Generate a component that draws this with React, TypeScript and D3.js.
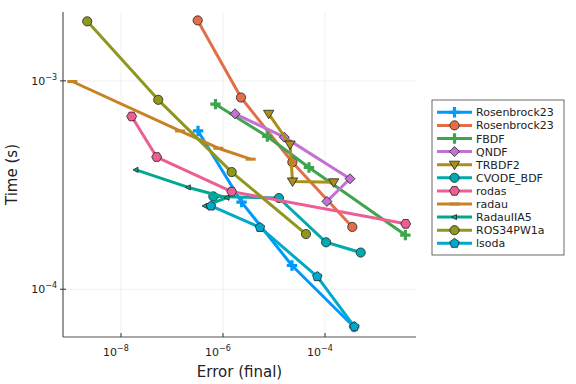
import React from "react";
import * as d3 from "d3";

// work-precision data: error (final) vs time (s)
const rosenbrockBlueErr = [3.24e-7, 2.31e-6, 2.25e-5, 3.71e-4];
const rosenbrockBlueTime = [5.75e-4, 2.62e-4, 1.3e-4, 6.59e-5];
const rosenbrockOrangeErr = [3.19e-7, 2.25e-6, 2.29e-5, 3.43e-4];
const rosenbrockOrangeTime = [1.95e-3, 8.32e-4, 4.07e-4, 1.99e-4];
const fbdfErr = [7.13e-7, 7.4e-6, 4.85e-5, 3.76e-3];
const fbdfTime = [7.73e-4, 5.41e-4, 3.84e-4, 1.82e-4];
const qndfErr = [1.72e-6, 1.59e-5, 3.09e-4, 1.09e-4];
const qndfTime = [6.95e-4, 5.37e-4, 3.39e-4, 2.64e-4];
const trbdf2Err = [7.87e-6, 2.06e-5, 2.31e-5, 1.48e-4];
const trbdf2Time = [6.95e-4, 4.95e-4, 3.29e-4, 3.26e-4];
const cvodeErr = [6.46e-7, 1.25e-5, 1.05e-4, 5.01e-4];
const cvodeTime = [2.79e-4, 2.74e-4, 1.68e-4, 1.5e-4];
const rodasErr = [1.62e-8, 5.01e-8, 1.48e-6, 3.82e-3];
const rodasTime = [6.75e-4, 4.31e-4, 2.94e-4, 2.06e-4];
const radauErr = [1.11e-9, 1.44e-7, 8.09e-7, 3.49e-6];
const radauTime = [9.93e-4, 5.75e-4, 4.75e-4, 4.21e-4];
const radauIIA5Err = [1.97e-8, 2.09e-7, 1.2e-6, 4.44e-7];
const radauIIA5Time = [3.74e-4, 3.08e-4, 2.75e-4, 2.51e-4];
const ros34Err = [2.18e-9, 5.38e-8, 1.48e-6, 4.24e-5];
const ros34Time = [1.93e-3, 8.11e-4, 3.65e-4, 1.84e-4];
const lsodaErr = [5.82e-7, 5.31e-6, 7.06e-5, 3.76e-4];
const lsodaTime = [2.51e-4, 1.98e-4, 1.15e-4, 6.61e-5];

const xTicks = [1e-8, 1e-6, 1e-4];
const xTickExp = ["−8", "−6", "−4"];
const yTicks = [1e-3, 1e-4];
const yTickExp = ["−3", "−4"];

const series = [
  { name: "Rosenbrock23", color: "#009AFA", shape: "cross", x: rosenbrockBlueErr, y: rosenbrockBlueTime },
  { name: "Rosenbrock23", color: "#E36F47", shape: "circle", x: rosenbrockOrangeErr, y: rosenbrockOrangeTime },
  { name: "FBDF", color: "#3EA44E", shape: "cross", x: fbdfErr, y: fbdfTime },
  { name: "QNDF", color: "#C371D2", shape: "diamond", x: qndfErr, y: qndfTime },
  { name: "TRBDF2", color: "#AC8E18", shape: "dtriangle", x: trbdf2Err, y: trbdf2Time },
  { name: "CVODE_BDF", color: "#00AAAE", shape: "circle", x: cvodeErr, y: cvodeTime },
  { name: "rodas", color: "#ED5E93", shape: "hexagon", x: rodasErr, y: rodasTime },
  { name: "radau", color: "#C68225", shape: "hline", x: radauErr, y: radauTime },
  { name: "RadauIIA5", color: "#00A98D", shape: "ltriangle", x: radauIIA5Err, y: radauIIA5Time },
  { name: "ROS34PW1a", color: "#8E971E", shape: "circle", x: ros34Err, y: ros34Time },
  { name: "lsoda", color: "#00A8CB", shape: "pentagon", x: lsodaErr, y: lsodaTime },
];

const W = 576, H = 384;
const left = 63, right = 416, top = 12, bottom = 337;
const font = "DejaVu Sans, sans-serif";

const poly = (n: number, r: number, rot: number) =>
  "M" + d3.range(n).map(i => {
    const a = rot + (i * 2 * Math.PI) / n;
    return [r * Math.cos(a), r * Math.sin(a)].join(",");
  }).join("L") + "Z";

function Marker({ shape, color, cx, cy }: { shape: string; color: string; cx: number; cy: number }) {
  const t = `translate(${cx},${cy})`;
  const stroke = "#222";
  if (shape === "circle") return <circle cx={cx} cy={cy} r={4.6} fill={color} stroke={stroke} strokeWidth={0.8} />;
  if (shape === "cross") {
    const a = 5.2, b = 1.6;
    const d = `M${-b},${-a}H${b}V${-b}H${a}V${b}H${b}V${a}H${-b}V${b}H${-a}V${-b}H${-b}Z`;
    return <path d={d} transform={t} fill={color} />;
  }
  if (shape === "diamond") return <path d="M0,-5L5,0L0,5L-5,0Z" transform={t} fill={color} stroke={stroke} strokeWidth={0.8} />;
  if (shape === "dtriangle") return <path d="M-5.2,-3.5L5.2,-3.5L0,5Z" transform={t} fill={color} stroke={stroke} strokeWidth={0.8} />;
  if (shape === "ltriangle") return <path d="M-3,0L2,-2.6L2,2.6Z" transform={t} fill={color} stroke={stroke} strokeWidth={0.8} />;
  if (shape === "hexagon") return <path d={poly(6, 5, 0)} transform={t} fill={color} stroke={stroke} strokeWidth={0.8} />;
  if (shape === "pentagon") return <path d={poly(5, 5, -Math.PI / 2)} transform={t} fill={color} stroke={stroke} strokeWidth={0.8} />;
  if (shape === "hline") return <rect x={cx - 5} y={cy - 1.5} width={10} height={3} fill={color} />;
  return null;
}

export default function App() {
  const x = d3.scaleLog().domain([7.3e-10, 6.08e-3]).range([left, right]);
  const y = d3.scaleLog().domain([5.9e-5, 2.14e-3]).range([bottom, top]);
  const line = d3.line<number[]>().x(d => x(d[0])).y(d => y(d[1]));

  const legX = 432, legY = 100, legW = 132, legH = 155, rowH = 13.1;

  return (
    <svg width={W} height={H} style={{ position: "absolute", left: 0, top: 0, background: "#fff" }} fontFamily={font}>
      {/* grid */}
      {xTicks.map((t, i) => (
        <line key={"gx" + i} x1={x(t)} x2={x(t)} y1={top} y2={bottom} stroke="#000" strokeOpacity={0.1} strokeWidth={0.6} />
      ))}
      {yTicks.map((t, i) => (
        <line key={"gy" + i} x1={left} x2={right} y1={y(t)} y2={y(t)} stroke="#000" strokeOpacity={0.1} strokeWidth={0.6} />
      ))}
      {/* series */}
      {series.map((s, si) => {
        const pts = s.x.map((v, i) => [v, s.y[i]]);
        return (
          <g key={"s" + si}>
            <path d={line(pts) || ""} fill="none" stroke={s.color} strokeWidth={3} strokeLinejoin="round" />
            {pts.map((p, i) => (
              <Marker key={i} shape={s.shape} color={s.color} cx={x(p[0])} cy={y(p[1])} />
            ))}
          </g>
        );
      })}
      {/* axes */}
      <line x1={left} x2={left} y1={top} y2={bottom} stroke="#555" strokeWidth={1.2} />
      <line x1={left} x2={right} y1={bottom} y2={bottom} stroke="#555" strokeWidth={1.2} />
      {xTicks.map((t, i) => (
        <g key={"xt" + i}>
          <line x1={x(t)} x2={x(t)} y1={bottom} y2={bottom - 4} stroke="#333" strokeWidth={1} />
          <text x={x(t) - 5} y={bottom + 19} fontSize={11} textAnchor="middle" fill="#222">
            10<tspan dy={-5} fontSize={8}>{xTickExp[i]}</tspan>
          </text>
        </g>
      ))}
      {yTicks.map((t, i) => (
        <g key={"yt" + i}>
          <line x1={left - 3} x2={left + 3} y1={y(t)} y2={y(t)} stroke="#333" strokeWidth={1} />
          <text x={57} y={y(t) + 4} fontSize={11} textAnchor="end" fill="#222">
            10<tspan dy={-5} fontSize={8}>{yTickExp[i]}</tspan>
          </text>
        </g>
      ))}
      <text x={(left + right) / 2} y={377} fontSize={15} textAnchor="middle" fill="#222">Error (final)</text>
      <text transform={`translate(17,${(top + bottom) / 2}) rotate(-90)`} fontSize={15} textAnchor="middle" fill="#222">Time (s)</text>
      {/* legend */}
      <rect x={legX} y={legY} width={legW} height={legH} fill="#fff" stroke="#444" strokeWidth={0.8} />
      {series.map((s, i) => {
        const cy = legY + 12.3 + i * rowH;
        return (
          <g key={"l" + i}>
            <line x1={legX + 5} x2={legX + 40} y1={cy} y2={cy} stroke={s.color} strokeWidth={3} />
            <Marker shape={s.shape} color={s.color} cx={legX + 22.5} cy={cy} />
            <text x={legX + 44} y={cy + 4} fontSize={11} fill="#222">{s.name}</text>
          </g>
        );
      })}
    </svg>
  );
}
